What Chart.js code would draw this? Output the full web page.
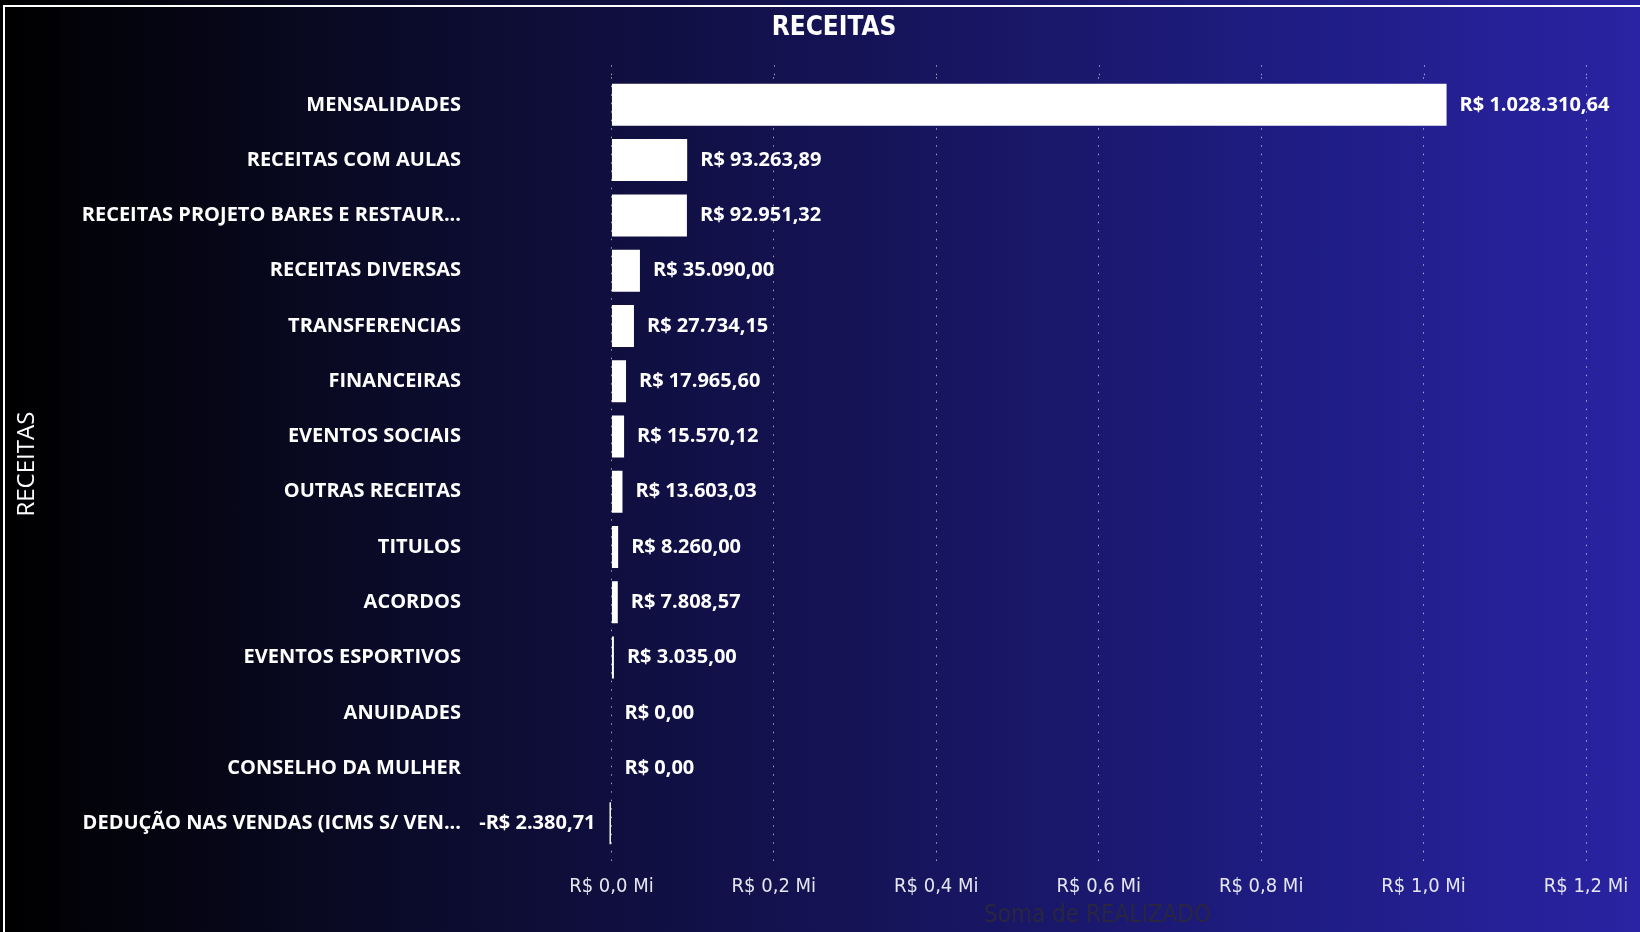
<!DOCTYPE html>
<html>
<head>
<meta charset="utf-8">
<script src="https://cdn.jsdelivr.net/npm/chart.js@4/dist/chart.umd.min.js"></script>
<style>
    html, body { margin: 0; padding: 0; }
    body {
        width: 1640px;
        height: 932px;
        overflow: hidden;
        position: relative;
        background: linear-gradient(to right, #000000 0%, #0a0a26 22%, #111046 42%, #181663 60%, #1f1d85 80%, #2a23a3 100%);
    }
    #frame {
        position: absolute;
        left: 3px; top: 5px; right: 0; bottom: 0;
        border-left: 2px solid #ffffff;
        border-top: 2px solid #ffffff;
        pointer-events: none;
    }
    canvas { position: absolute; left: 0; top: 0; }
</style>
</head>
<body>
<canvas id="receitasChart" width="1640" height="932"></canvas>
<div id="frame"></div>
<script>
const categories = [
    'MENSALIDADES',
    'RECEITAS COM AULAS',
    'RECEITAS PROJETO BARES E RESTAUR...',
    'RECEITAS DIVERSAS',
    'TRANSFERENCIAS',
    'FINANCEIRAS',
    'EVENTOS SOCIAIS',
    'OUTRAS RECEITAS',
    'TITULOS',
    'ACORDOS',
    'EVENTOS ESPORTIVOS',
    'ANUIDADES',
    'CONSELHO DA MULHER',
    'DEDUÇÃO NAS VENDAS (ICMS S/ VEN...'
];

const realizado = [
    1028310.64, 93263.89, 92951.32, 35090.00, 27734.15, 17965.60, 15570.12,
    13603.03, 8260.00, 7808.57, 3035.00, 0, 0, -2380.71
];

const tickValues = [0, 200000, 400000, 600000, 800000, 1000000, 1200000];

const brl = new Intl.NumberFormat('pt-BR', { minimumFractionDigits: 2, maximumFractionDigits: 2 });
const fmtMoney = v => (v < 0 ? '-R$ ' : 'R$ ') + brl.format(Math.abs(v));
const fmtMi = v => 'R$ ' + (v / 1000000).toFixed(1).replace('.', ',') + ' Mi';

const labelFont = "bold 20px 'Open Sans', sans-serif";
const narrow = "'Liberation Sans Narrow', 'DejaVu Sans Condensed', sans-serif";
const gridColor = 'rgba(255,255,255,0.6)';
const gridDash = [1.5, 7];

// value labels next to each bar end
const barLabels = {
    id: 'barLabels',
    beforeDatasetsDraw(chart) {
        // grid runs a little above the first bar, like the original
        const {ctx, chartArea} = chart;
        const x = chart.scales.x;
        ctx.save();
        ctx.strokeStyle = gridColor;
        ctx.lineWidth = 1;
        ctx.setLineDash(gridDash);
        tickValues.forEach(v => {
            const px = Math.round(x.getPixelForValue(v)) + 0.5;
            ctx.beginPath();
            ctx.moveTo(px, chartArea.top - 12);
            ctx.lineTo(px, chartArea.top);
            ctx.stroke();
        });
        ctx.restore();
    },
    afterDatasetsDraw(chart) {
        const ctx = chart.ctx;
        const meta = chart.getDatasetMeta(0);
        ctx.save();
        ctx.font = labelFont;
        ctx.fillStyle = '#ffffff';
        ctx.textBaseline = 'middle';
        meta.data.forEach((bar, i) => {
            const v = realizado[i];
            if (v < 0) {
                ctx.textAlign = 'right';
                ctx.fillText(fmtMoney(v), bar.x - 14, bar.y);
            } else {
                ctx.textAlign = 'left';
                ctx.fillText(fmtMoney(v), bar.x + 13, bar.y);
            }
        });
        ctx.restore();
    }
};

const canvas = document.getElementById('receitasChart');

new Chart(canvas.getContext('2d'), {
    type: 'bar',
    data: {
        labels: categories,
        datasets: [{
            label: 'Soma de REALIZADO',
            data: realizado,
            backgroundColor: '#ffffff',
            borderWidth: 0,
            barPercentage: 0.76,
            categoryPercentage: 1.0
        }]
    },
    options: {
        indexAxis: 'y',
        responsive: false,
        animation: false,
        layout: { padding: { left: 28, right: 0, top: 0, bottom: 0 } },
        scales: {
            x: {
                min: -3000,
                max: 1200000,
                afterBuildTicks: scale => {
                    scale.ticks = tickValues.map(v => ({ value: v }));
                },
                afterFit: scale => {
                    scale.height = 81;
                    scale.paddingLeft = 0;
                    scale.paddingRight = 54;
                },
                grid: {
                    color: gridColor,
                    lineWidth: 1,
                    drawTicks: true,
                    tickLength: 17,
                    tickColor: gridColor,
                    tickBorderDash: gridDash
                },
                border: { display: false, dash: gridDash },
                ticks: {
                    color: '#e6e6f0',
                    padding: 7,
                    maxRotation: 0,
                    font: { family: narrow, size: 20 },
                    callback: v => fmtMi(v)
                },
                title: {
                    display: true,
                    text: 'Soma de REALIZADO',
                    color: '#2a2640',
                    font: { family: narrow, size: 24 },
                    padding: { top: 0, bottom: 2 }
                }
            },
            y: {
                afterFit: scale => {
                    scale.width = 581;
                    scale.paddingTop = 0;
                    scale.paddingBottom = 0;
                },
                grid: { display: false, drawTicks: false },
                border: { display: false },
                ticks: {
                    color: '#ffffff',
                    padding: 148,
                    font: { family: "'Open Sans', sans-serif", size: 20, weight: 'bold' }
                },
                title: {
                    display: true,
                    text: 'RECEITAS',
                    color: '#ffffff',
                    font: { family: "'Open Sans', sans-serif", size: 24 },
                    padding: { top: -15, bottom: 0 }
                }
            }
        },
        plugins: {
            legend: { display: false },
            tooltip: { enabled: false },
            title: {
                display: true,
                text: 'RECEITAS',
                color: '#ffffff',
                font: { family: "'DejaVu Sans Condensed', sans-serif", size: 26, weight: 'bold' },
                padding: { top: 13, bottom: 33 }
            }
        }
    },
    plugins: [barLabels]
});
</script>
</body>
</html>
